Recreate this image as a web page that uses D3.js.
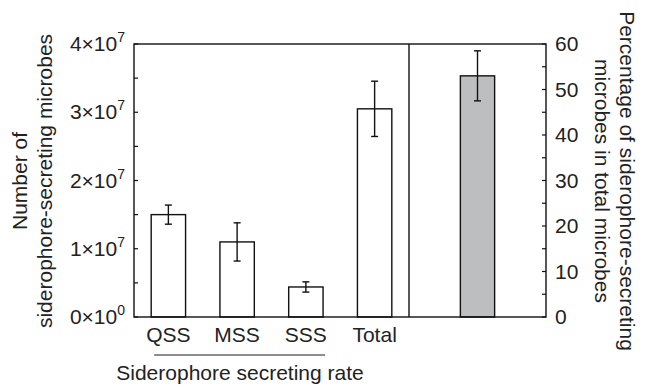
<!DOCTYPE html>
<html>
<head>
<meta charset="utf-8">
<script src="https://cdn.jsdelivr.net/npm/d3@7"></script>
<style>
  body { margin: 0; background: #fff; }
  text { font-family: "Liberation Sans", Arial, sans-serif; fill: #222; }
</style>
</head>
<body>
<svg id="chart" width="646" height="387"></svg>
<script>
// counts per secreting rate group
var categories = ["QSS", "MSS", "SSS", "Total"];
var counts = [1.5e7, 1.1e7, 0.44e7, 3.05e7];
var countErr = [0.14e7, 0.28e7, 0.075e7, 0.405e7];

// percentage of secreting microbes in total
var pctValue = [53];
var pctErr = [5.5];

var leftTicks = [0, 1e7, 2e7, 3e7, 4e7];
var leftExp = ["0", "7", "7", "7", "7"];
var rightTicks = [0, 10, 20, 30, 40, 50, 60];

var svg = d3.select("#chart");

var pLeft = 134, pDiv = 409, pRight = 546, pTop = 44, pBottom = 317;
var fs = "21px";

var y = d3.scaleLinear().domain([0, 4e7]).range([pBottom, pTop]);
var y2 = d3.scaleLinear().domain([0, 60]).range([pBottom, pTop]);
var x = d3.scaleBand().domain(categories).range([pLeft, pDiv]).paddingInner(0.5).paddingOuter(0.25);
var x2 = d3.scaleBand().domain(["pct"]).range([pDiv, pRight]).paddingInner(0.5).paddingOuter(0.75);

// bars
svg.selectAll("rect.count").data(counts).enter().append("rect")
  .attr("class", "count")
  .attr("x", function(d, i) { return x(categories[i]); })
  .attr("y", function(d) { return y(d); })
  .attr("width", x.bandwidth())
  .attr("height", function(d) { return pBottom - y(d); })
  .attr("fill", "#fff").attr("stroke", "#111").attr("stroke-width", 1.4);

svg.selectAll("rect.pct").data(pctValue).enter().append("rect")
  .attr("class", "pct")
  .attr("x", x2("pct"))
  .attr("y", function(d) { return y2(d); })
  .attr("width", x2.bandwidth())
  .attr("height", function(d) { return pBottom - y2(d); })
  .attr("fill", "#bdbebf").attr("stroke", "#111").attr("stroke-width", 1.4);

// error bars
function errBar(cx, hi, lo) {
  var g = svg.append("g").attr("stroke", "#111").attr("stroke-width", 1.4);
  g.append("line").attr("x1", cx).attr("x2", cx).attr("y1", hi).attr("y2", lo);
  g.append("line").attr("x1", cx - 3.5).attr("x2", cx + 3.5).attr("y1", hi).attr("y2", hi);
  g.append("line").attr("x1", cx - 3.5).attr("x2", cx + 3.5).attr("y1", lo).attr("y2", lo);
}
counts.forEach(function(d, i) {
  var cx = x(categories[i]) + x.bandwidth() / 2;
  errBar(cx, y(d + countErr[i]), y(d - countErr[i]));
});
pctValue.forEach(function(d, i) {
  var cx = x2("pct") + x2.bandwidth() / 2;
  errBar(cx, y2(d + pctErr[i]), y2(d - pctErr[i]));
});

// frame
svg.append("rect").attr("x", pLeft).attr("y", pTop).attr("width", pRight - pLeft).attr("height", pBottom - pTop)
  .attr("fill", "none").attr("stroke", "#111").attr("stroke-width", 1.4);
svg.append("line").attr("x1", pDiv).attr("x2", pDiv).attr("y1", pTop).attr("y2", pBottom)
  .attr("stroke", "#111").attr("stroke-width", 1.4);

// left axis ticks (inward)
var leftMinor = d3.range(0, 4.01e7, 0.5e7);
svg.append("g").selectAll("line").data(leftMinor).enter().append("line")
  .attr("x1", pLeft).attr("x2", pLeft + 4)
  .attr("y1", function(d) { return y(d); }).attr("y2", function(d) { return y(d); })
  .attr("stroke", "#111").attr("stroke-width", 1.2);

var lt = svg.append("g").selectAll("text").data(leftTicks).enter().append("text")
  .attr("x", 125).attr("y", function(d) { return y(d) + 7; })
  .attr("text-anchor", "end").style("font-size", fs);
lt.append("tspan").text(function(d) { return (d / 1e7) + "\u00d710"; });
lt.append("tspan").attr("dy", -9).style("font-size", "14px").text(function(d, i) { return leftExp[i]; });

// right axis ticks (inward)
var rightMinor = d3.range(0, 61, 5);
svg.append("g").selectAll("line").data(rightMinor).enter().append("line")
  .attr("x1", pRight - 4).attr("x2", pRight)
  .attr("y1", function(d) { return y2(d); }).attr("y2", function(d) { return y2(d); })
  .attr("stroke", "#111").attr("stroke-width", 1.2);

svg.append("g").selectAll("text").data(rightTicks).enter().append("text")
  .attr("x", 555).attr("y", function(d) { return y2(d) + 7; })
  .style("font-size", fs).text(function(d) { return d; });

// x labels
svg.append("g").selectAll("text").data(categories).enter().append("text")
  .attr("x", function(d) { return x(d) + x.bandwidth() / 2; })
  .attr("y", 342).attr("text-anchor", "middle").style("font-size", fs)
  .text(function(d) { return d; });

// group bracket under QSS..SSS
svg.append("line")
  .attr("x1", x("QSS") + 3).attr("x2", x("SSS") + x.bandwidth() + 2)
  .attr("y1", 355).attr("y2", 355).attr("stroke", "#666").attr("stroke-width", 1.4);
svg.append("text").attr("x", 240).attr("y", 380).attr("text-anchor", "middle")
  .style("font-size", fs).text("Siderophore secreting rate");

// axis titles
var lTitle = svg.append("text").attr("transform", "translate(0,181) rotate(-90)")
  .attr("text-anchor", "middle").style("font-size", fs);
lTitle.append("tspan").attr("x", 0).attr("y", 27).text("Number of");
lTitle.append("tspan").attr("x", 0).attr("y", 52).text("siderophore-secreting microbes");

var rTitle = svg.append("text").attr("transform", "translate(646,181) rotate(90)")
  .attr("text-anchor", "middle").style("font-size", fs);
rTitle.append("tspan").attr("x", 0).attr("y", 26).text("Percentage of siderophore-secreting");
rTitle.append("tspan").attr("x", 0).attr("y", 51).text("microbes in total microbes");
</script>
</body>
</html>
